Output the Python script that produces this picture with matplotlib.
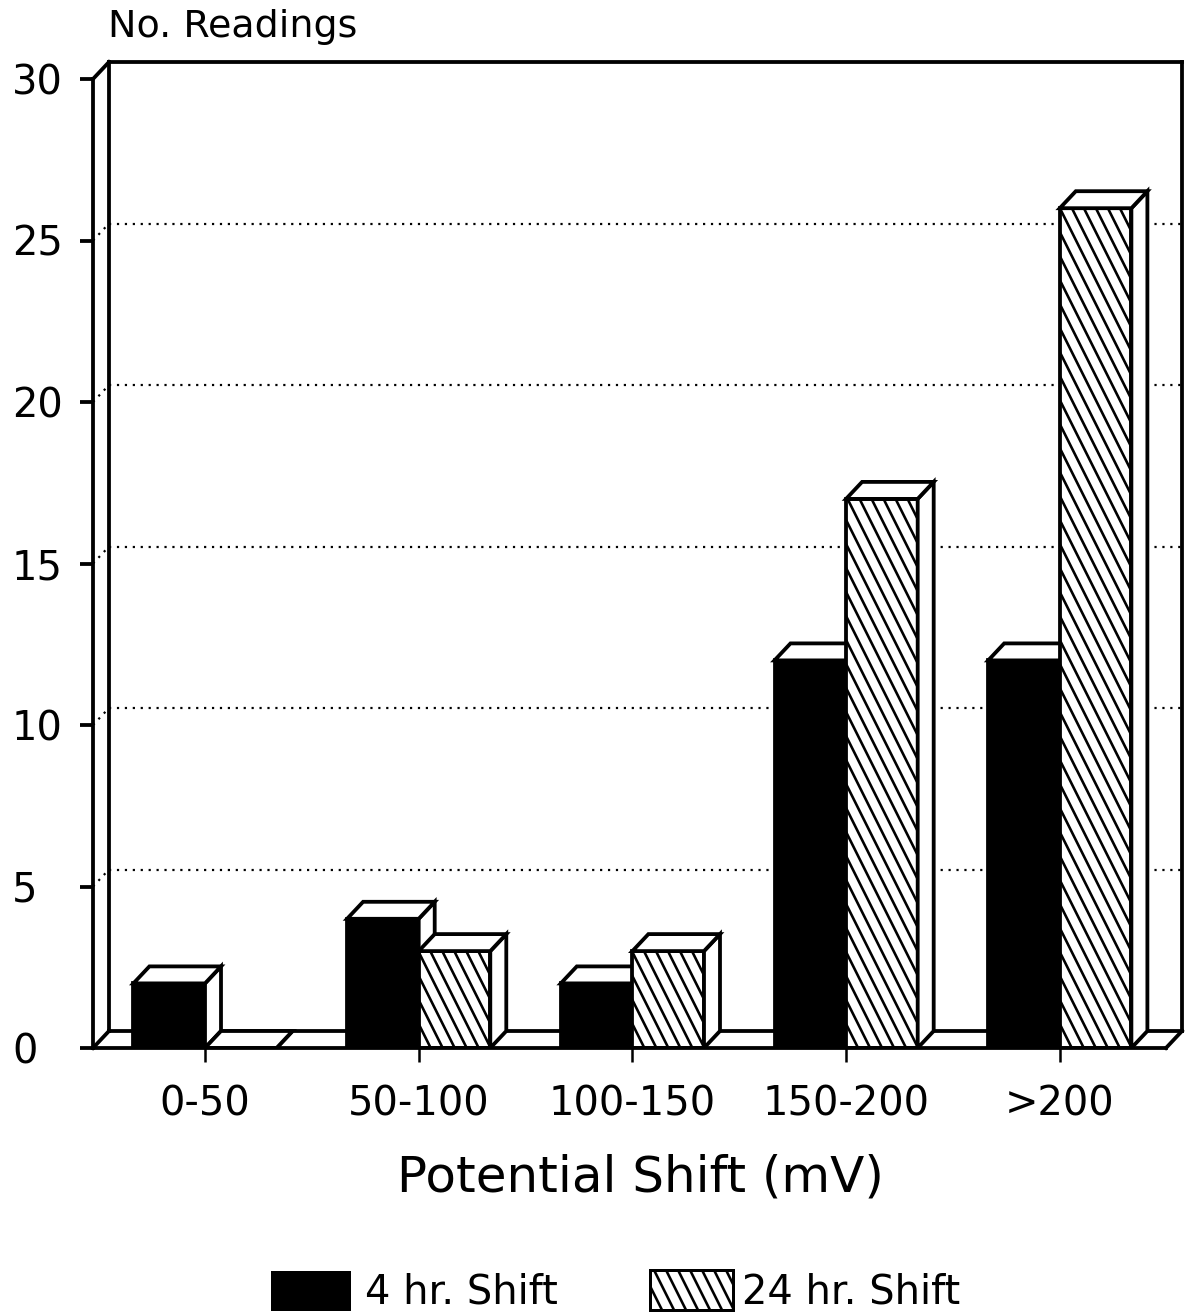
import matplotlib
matplotlib.use('Agg')
import matplotlib.pyplot as plt
from matplotlib.patches import Polygon, Rectangle
from matplotlib.collections import LineCollection

categories = ['0-50', '50-100', '100-150', '150-200', '>200']
shift_4hr = [2, 4, 2, 12, 12]
shift_24hr = [0, 3, 3, 17, 26]
series_labels = ['4 hr. Shift', '24 hr. Shift']
y_ticks = [0, 5, 10, 15, 20, 25, 30]

W, H, DPI = 1195, 1314, 72
fig = plt.figure(figsize=(W / DPI, H / DPI), dpi=DPI)
fig.patch.set_facecolor('white')

# axes geometry in pixels
left_px, right_px = 93, 1192
bot_px, top_px = 1048, 45
px_x = 213.7   # pixels per category
px_y = 32.3    # pixels per reading
ax = fig.add_axes([left_px / W, 1 - bot_px / H,
                   (right_px - left_px) / W, (bot_px - top_px) / H])
x0 = (left_px - 205) / px_x
ax.set_xlim(x0, x0 + (right_px - left_px) / px_x)
ax.set_ylim(0, (bot_px - top_px) / px_y)

ddx = 16 / px_x   # depth offset
ddy = 17 / px_y
x1 = (1182 - 205) / px_x
ymax = y_ticks[-1]
w = 0.335
lw = 3.8

# spines / ticks
for s in ['top', 'right']:
    ax.spines[s].set_visible(False)
ax.spines['left'].set_linewidth(lw)
ax.spines['left'].set_bounds(0, ymax)
ax.spines['bottom'].set_linewidth(lw)
ax.spines['bottom'].set_bounds(x0, x1 - ddx)
ax.set_yticks(y_ticks)
ax.set_yticklabels([str(t) for t in y_ticks])
ax.tick_params(axis='y', direction='out', length=13, width=lw, labelsize=40, pad=68)
for lab in ax.get_yticklabels():
    lab.set_ha('left')
ax.set_xticks(range(len(categories)))
ax.set_xticklabels(categories)
ax.tick_params(axis='x', direction='out', length=14, width=2.5, labelsize=40, pad=22)

# back wall and floor
kw = dict(color='black', lw=lw, clip_on=False, zorder=1, solid_capstyle='projecting')
ax.plot([x0 + ddx, x0 + ddx], [ddy, ymax + ddy], **kw)
ax.plot([x0, x0 + ddx], [ymax, ymax + ddy], **kw)
ax.plot([x0 + ddx, x1], [ymax + ddy, ymax + ddy], **kw)
ax.plot([x1, x1], [ddy, ymax + ddy], **kw)
ax.plot([x0 + ddx, x1], [ddy, ddy], **kw)
ax.plot([x0, x0 + ddx], [0, ddy], **kw)
ax.plot([x1 - ddx, x1], [0, ddy], **kw)
dkw = dict(color='black', lw=2.2, ls=(0, (1, 2.6)), clip_on=False, zorder=1)
for t in y_ticks[1:-1]:
    ax.plot([x0, x0 + ddx], [t, t + ddy], **dkw)
    ax.plot([x0 + ddx, x1], [t + ddy, t + ddy], **dkw)

z = [2.0]


def nz():
    z[0] += 0.01
    return z[0]


def hatch(patch, xa, xb, ya, yb, sp, slope, transform, target, lwh=2.6):
    # diagonal "\\" lines clipped to patch
    run = (yb - ya) / abs(slope)
    segs = []
    k = 0.0
    while k <= (xb - xa) + run + sp:
        xb_ = xa + k
        segs.append([(xb_ - run, yb), (xb_, ya)])
        k += sp
    lc = LineCollection(segs, colors='black', linewidths=lwh, transform=transform,
                        zorder=patch.get_zorder() + 0.001)
    target.add_artist(lc) if target is fig else target.add_collection(lc, autolim=False)
    lc.set_clip_path(patch)


def bar3d(x_left, v, hatched):
    face = Rectangle((x_left, 0), w, v, facecolor='white' if hatched else 'black',
                     edgecolor='black', lw=lw, zorder=nz(), joinstyle='miter')
    ax.add_patch(face)
    if hatched and v > 0:
        hatch(face, x_left, x_left + w, 0, v, 12 / px_x, -2 * px_x / px_y,
              ax.transData, ax)
        nz()
    side = Polygon([(x_left + w, 0), (x_left + w + ddx, ddy),
                    (x_left + w + ddx, v + ddy), (x_left + w, v)],
                   facecolor='white', edgecolor='black', lw=lw, zorder=nz(), joinstyle='miter')
    ax.add_patch(side)
    top = Polygon([(x_left, v), (x_left + ddx, v + ddy),
                   (x_left + w + ddx, v + ddy), (x_left + w, v)],
                  facecolor='white', edgecolor='black', lw=lw, zorder=nz(), joinstyle='miter')
    ax.add_patch(top)


for i in range(len(categories)):
    bar3d(i - w, shift_4hr[i], False)
    bar3d(i, shift_24hr[i], True)

# texts
fig.text(108 / W, 1 - 27 / H, 'No. Readings', fontsize=38, ha='left', va='center')
fig.text(640 / W, 1 - 1178 / H, 'Potential Shift (mV)', fontsize=50, ha='center', va='center')

# legend
def fx(p):
    return p / W


def fy(p):
    return 1 - p / H


r1 = Rectangle((fx(272), fy(1310)), fx(78), 38 / H, transform=fig.transFigure,
               facecolor='black', edgecolor='black', lw=2)
fig.add_artist(r1)
fig.text(fx(365), fy(1292), series_labels[0], fontsize=40, ha='left', va='center')
r2 = Rectangle((fx(650), fy(1310)), fx(83), 40 / H, transform=fig.transFigure,
               facecolor='white', edgecolor='black', lw=3, zorder=3)
fig.add_artist(r2)
hatch(r2, fx(650), fx(733), fy(1310), fy(1270), 12 / W, -2 * W / H, fig.transFigure, fig)
fig.text(fx(742), fy(1292), series_labels[1], fontsize=40, ha='left', va='center')

fig.savefig('out.png', dpi=DPI)
